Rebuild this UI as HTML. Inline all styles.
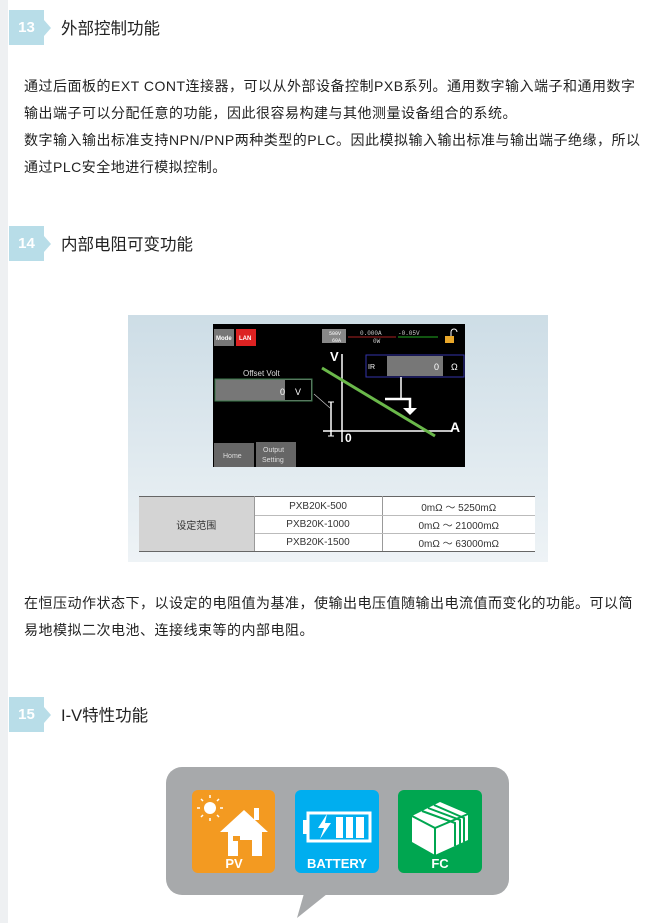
<!DOCTYPE html>
<html><head><meta charset="utf-8"><style>
*{margin:0;padding:0;box-sizing:border-box}
body{width:663px;height:923px;position:relative;background:#fff;overflow:hidden;font-family:"Liberation Sans","Noto Sans CJK SC",sans-serif;color:#222}
.strip{position:absolute;left:0;top:0;width:8px;height:923px;background:#eef0f2}
.badge{position:absolute;left:9px;width:35px;height:35px;background:#b8dde8;color:#fff;font-weight:bold;font-size:15px;text-align:center;line-height:35px}
.badge:after{content:"";position:absolute;left:35px;top:10px;border-left:7px solid #b8dde8;border-top:8px solid transparent;border-bottom:8px solid transparent}
.h{position:absolute;left:61px;font-size:16.5px;color:#222;white-space:nowrap}
.p{position:absolute;left:24px;font-size:14px;letter-spacing:0.5px;line-height:27px;white-space:nowrap;color:#222}
.a{position:absolute;white-space:nowrap}
</style></head><body>
<div class="strip"></div>
<div class="badge" style="top:10px">13</div>
<div class="h" style="top:15px">外部控制功能</div>
<div class="p" style="top:73px">通过后面板的EXT CONT连接器，可以从外部设备控制PXB系列。通用数字输入端子和通用数字<br>输出端子可以分配任意的功能，因此很容易构建与其他测量设备组合的系统。<br>数字输入输出标准支持NPN/PNP两种类型的PLC。因此模拟输入输出标准与输出端子绝缘，所以<br>通过PLC安全地进行模拟控制。</div>

<div class="badge" style="top:226px">14</div>
<div class="h" style="top:231px">内部电阻可变功能</div>

<div style="position:absolute;left:128px;top:315px;width:420px;height:247px;background:linear-gradient(#cddde6,#eef3f6)"></div>
<svg class="a" style="left:213px;top:324px" width="252" height="143" viewBox="0 0 252 143">
<rect width="252" height="143" fill="#000"/>
<rect x="1" y="5" width="20" height="17" fill="#777"/><text x="3" y="16" font-size="6" fill="#fff" font-family="Liberation Sans" font-weight="bold">Mode</text>
<rect x="23" y="5" width="20" height="17" fill="#d22"/><text x="26" y="16" font-size="6" fill="#fff" font-family="Liberation Sans" font-weight="bold">LAN</text>
<rect x="109" y="5" width="24" height="14" fill="#888"/><text x="116" y="11" font-size="5" fill="#fff" font-family="Liberation Mono">500V</text><text x="119" y="18" font-size="5" fill="#fff" font-family="Liberation Mono">60A</text>
<text x="147" y="11" font-size="6" fill="#ccc" font-family="Liberation Mono">0.000A</text><text x="185" y="11" font-size="6" fill="#ccc" font-family="Liberation Mono">-0.05V</text>
<line x1="135" y1="13" x2="183" y2="13" stroke="#a22"/><line x1="185" y1="13" x2="225" y2="13" stroke="#2a2"/>
<text x="160" y="19" font-size="6" fill="#ccc" font-family="Liberation Mono">0W</text>
<rect x="232" y="12" width="9" height="7" fill="#e9a72a"/><path d="M238 12v-4a3 3 0 0 1 6 0" stroke="#fff" fill="none"/>
<text x="117" y="37" font-size="13" fill="#fff" font-family="Liberation Sans" font-weight="bold">V</text>
<line x1="129" y1="30" x2="129" y2="118" stroke="#fff" stroke-width="1.5"/>
<line x1="110" y1="107" x2="238" y2="107" stroke="#fff" stroke-width="1.5"/>
<text x="132" y="118" font-size="12" fill="#fff" font-family="Liberation Sans" font-weight="bold">0</text>
<text x="237" y="108" font-size="14" fill="#fff" font-family="Liberation Sans" font-weight="bold">A</text>
<line x1="109" y1="44" x2="222" y2="112" stroke="#6ab84a" stroke-width="3"/>
<line x1="118" y1="78" x2="118" y2="112" stroke="#fff" stroke-width="1.5"/><line x1="115" y1="78" x2="121" y2="78" stroke="#fff"/><line x1="115" y1="112" x2="121" y2="112" stroke="#fff"/>
<line x1="101" y1="70" x2="117" y2="84" stroke="#ccc" stroke-width="0.7"/>
<rect x="2" y="55" width="97" height="22" fill="#777" stroke="#3a7a4a"/><rect x="72" y="56" width="26" height="20" fill="#000"/>
<text x="67" y="71" font-size="9" fill="#fff" font-family="Liberation Sans">0</text><text x="82" y="71" font-size="9" fill="#fff" font-family="Liberation Sans">V</text>
<text x="30" y="52" font-size="8" fill="#ddd" font-family="Liberation Sans">Offset Volt</text>
<rect x="153" y="31" width="98" height="22" fill="#000" stroke="#33a"/><rect x="174" y="32" width="56" height="20" fill="#777"/>
<text x="155" y="45" font-size="7" fill="#fff" font-family="Liberation Sans">IR</text><text x="221" y="46" font-size="9" fill="#fff" font-family="Liberation Sans">0</text><text x="238" y="46" font-size="9" fill="#fff" font-family="Liberation Sans">Ω</text>
<polyline points="188,53 188,75" stroke="#fff" stroke-width="1.5" fill="none"/>
<polyline points="172,75 197,75 197,86" stroke="#fff" stroke-width="2.5" fill="none"/>
<path d="M190 84h14l-7 7z" fill="#fff"/>
<rect x="1" y="119" width="40" height="24" fill="#666"/><text x="10" y="134" font-size="7" fill="#ddd" font-family="Liberation Sans">Home</text>
<rect x="43" y="118" width="40" height="25" fill="#666"/><text x="50" y="128" font-size="7" fill="#ddd" font-family="Liberation Sans">Output</text><text x="49" y="138" font-size="7" fill="#ddd" font-family="Liberation Sans">Setting</text>
</svg>
<table class="a" style="left:139px;top:496px;border-collapse:collapse;font-size:10px;color:#333;text-align:center;background:#fff">
<tr><td rowspan="3" style="width:115px;background:#d4d4d4;border-top:1px solid #666;border-bottom:1px solid #666;border-right:1px solid #999">设定范围</td><td style="width:128px;height:19px;border-top:1px solid #666;border-bottom:1px solid #bbb;border-right:1px solid #999">PXB20K-500</td><td style="width:153px;border-top:1px solid #666;border-bottom:1px solid #bbb">0mΩ 〜 5250mΩ</td></tr>
<tr><td style="height:18px;border-bottom:1px solid #bbb;border-right:1px solid #999">PXB20K-1000</td><td style="border-bottom:1px solid #bbb">0mΩ 〜 21000mΩ</td></tr>
<tr><td style="height:18px;border-bottom:1px solid #666;border-right:1px solid #999">PXB20K-1500</td><td style="border-bottom:1px solid #666">0mΩ 〜 63000mΩ</td></tr>
</table>

<div class="p" style="top:590px">在恒压动作状态下，以设定的电阻值为基准，使输出电压值随输出电流值而变化的功能。可以简<br>易地模拟二次电池、连接线束等的内部电阻。</div>

<div class="badge" style="top:697px">15</div>
<div class="h" style="top:702px">I-V特性功能</div>

<svg class="a" style="left:160px;top:760px" width="360" height="163" viewBox="0 0 360 163">
<rect x="6" y="7" width="343" height="128" rx="16" fill="#a7a9ab"/>
<path d="M145 130L137 158L172 130Z" fill="#a7a9ab"/>
<rect x="32" y="30" width="83" height="83" rx="6" fill="#f39a21"/>
<circle cx="50" cy="48" r="6" fill="#fff"/>
<g stroke="#fff" stroke-width="1.5"><line x1="50" y1="35" x2="50" y2="38"/><line x1="50" y1="58" x2="50" y2="61"/><line x1="37" y1="48" x2="40" y2="48"/><line x1="60" y1="48" x2="63" y2="48"/><line x1="41" y1="39" x2="43" y2="41"/><line x1="57" y1="55" x2="59" y2="57"/><line x1="41" y1="57" x2="43" y2="55"/><line x1="57" y1="41" x2="59" y2="39"/></g>
<path d="M60 72L84 50L108 72H102V96H92V80H78V96H68V72Z" fill="#fff"/><rect x="94" y="48" width="5" height="12" fill="#fff"/><rect x="73" y="76" width="7" height="5" fill="#f39a21"/>
<text x="74" y="108" font-size="13" font-weight="bold" fill="#fff" text-anchor="middle" font-family="Liberation Sans">PV</text>
<rect x="135" y="30" width="84" height="83" rx="6" fill="#00aeef"/>
<rect x="148" y="53" width="62" height="28" fill="none" stroke="#fff" stroke-width="3"/><rect x="143" y="60" width="5" height="14" fill="#fff"/>
<path d="M167 54L158 68H164L160 79L171 63H165Z" fill="#fff"/>
<rect x="176" y="57" width="7" height="21" fill="#fff"/><rect x="186" y="57" width="7" height="21" fill="#fff"/><rect x="196" y="57" width="8" height="21" fill="#fff"/>
<text x="177" y="108" font-size="13" font-weight="bold" fill="#fff" text-anchor="middle" font-family="Liberation Sans">BATTERY</text>
<rect x="238" y="30" width="84" height="83" rx="6" fill="#00a650"/>
<path d="M252 56L280 42L308 54V80L275 95L252 82Z" fill="#fff"/>
<g stroke="#00a650" stroke-width="2" fill="none"><path d="M252 56L275 68L308 54"/><path d="M275 68V95"/><path d="M268 48L300 60V84"/><path d="M274 45L304 58V82"/><path d="M262 51L295 63V86"/></g>
<text x="280" y="108" font-size="13" font-weight="bold" fill="#fff" text-anchor="middle" font-family="Liberation Sans">FC</text>
</svg>
</body></html>
